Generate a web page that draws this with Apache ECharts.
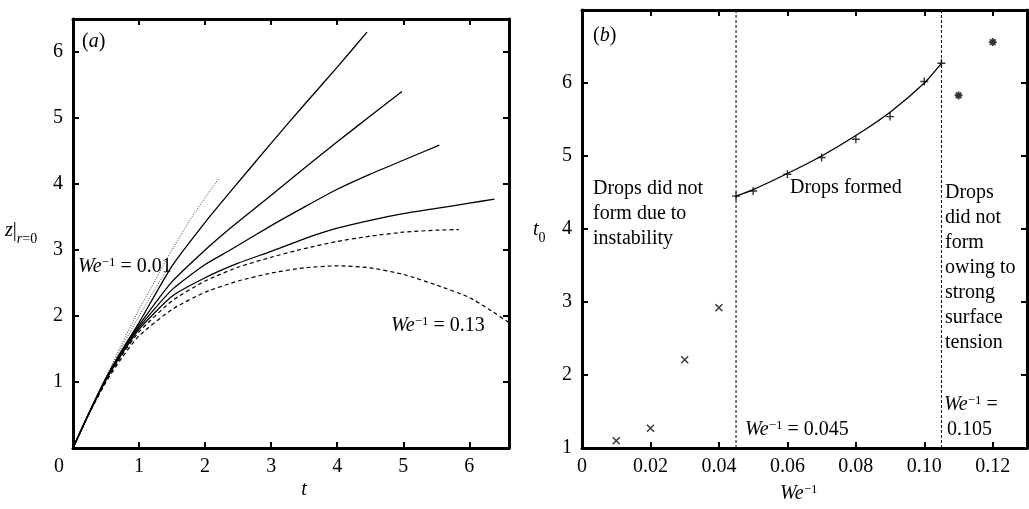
<!DOCTYPE html>
<html><head><meta charset="utf-8">
<script src="https://cdn.jsdelivr.net/npm/echarts/dist/echarts.min.js"></script>
<style>html,body{margin:0;padding:0;background:#fff}#c{width:1029px;height:509px}</style>
</head><body><div id="c"></div>
<script>
// ---------- Panel (a): z|r=0 versus t ----------
const tDot1 = [0, 0.25, 0.5, 0.75, 1.0, 1.25, 1.44, 1.8, 2.21];
const zDot1 = [0, 0.55, 1.08, 1.6, 2.1, 2.55, 2.9, 3.5, 4.09];
const tDot2 = [0, 0.25, 0.5, 0.75, 1.0, 1.25, 1.45];
const zDot2 = [0, 0.55, 1.07, 1.55, 2.0, 2.42, 2.75];
const tA = [0, 0.25, 0.5, 0.75, 1.0, 1.5, 2.0, 2.38, 3.0, 3.5, 4.0, 4.45];
const zA = [0, 0.55, 1.06, 1.5, 1.9, 2.76, 3.42, 3.88, 4.62, 5.2, 5.77, 6.3];
const tB = [0, 0.25, 0.5, 0.75, 1.0, 1.5, 2.0, 2.38, 3.0, 3.5, 4.0, 4.5, 4.98];
const zB = [0, 0.55, 1.05, 1.48, 1.86, 2.52, 3.0, 3.33, 3.83, 4.24, 4.64, 5.03, 5.4];
const tC = [0, 0.25, 0.5, 0.75, 1.0, 1.5, 2.0, 2.38, 3.0, 3.5, 4.0, 4.5, 5.0, 5.545];
const zC = [0, 0.54, 1.04, 1.46, 1.83, 2.4, 2.78, 3.0, 3.37, 3.65, 3.92, 4.15, 4.36, 4.59];
const tD = [0, 0.25, 0.5, 0.75, 1.0, 1.5, 2.0, 2.5, 3.0, 3.5, 4.0, 4.5, 5.0, 5.5, 6.0, 6.38];
const zD = [0, 0.54, 1.03, 1.44, 1.8, 2.3, 2.58, 2.8, 2.98, 3.17, 3.33, 3.45, 3.55, 3.63, 3.71, 3.77];
const tE = [0, 0.25, 0.5, 0.75, 1.0, 1.5, 2.0, 2.5, 3.0, 3.5, 4.0, 4.5, 5.0, 5.5, 5.84];
const zE = [0, 0.54, 1.02, 1.42, 1.76, 2.23, 2.53, 2.74, 2.89, 3.02, 3.13, 3.21, 3.27, 3.3, 3.31];
const tF = [0, 0.25, 0.5, 0.75, 1.0, 1.5, 2.0, 2.5, 3.0, 3.5, 4.0, 4.5, 5.0, 5.5, 6.0, 6.3, 6.6];
const zF = [0, 0.53, 1.0, 1.38, 1.7, 2.1, 2.36, 2.53, 2.65, 2.73, 2.76, 2.73, 2.63, 2.47, 2.28, 2.1, 1.9];

// ---------- Panel (b): t0 versus We^-1 ----------
const weUnstable = [0.01, 0.02, 0.03, 0.04];
const t0Unstable = [1.1, 1.27, 2.21, 2.92];
const weFormed = [0.045, 0.05, 0.06, 0.07, 0.08, 0.09, 0.10, 0.105];
const t0Formed = [4.45, 4.52, 4.75, 4.98, 5.23, 5.54, 6.02, 6.27];
const t0Fit = [4.45, 4.54, 4.76, 5.0, 5.28, 5.6, 6.0, 6.27];
const weTension = [0.11, 0.12];
const t0Tension = [5.83, 6.56];
const boundaries = [0.045, 0.105];

const zip = (a, b) => a.map((v, i) => [v, b[i]]);
const F = 'Liberation Serif, Times New Roman, serif';
const BLACK = '#000';
const T0_MIN = 1, T0_MAX = 7;

function frameAxes(grid, min, max, interval, isX, fmt) {
  const common = {
    gridIndex: grid, type: 'value', min: min, max: max, interval: interval,
    splitLine: { show: false },
    axisLine: { show: true, onZero: false, lineStyle: { color: BLACK, width: 3 } },
    axisTick: { show: true, inside: true, length: 6, lineStyle: { color: BLACK, width: 2 } }
  };
  const main = Object.assign({}, common, {
    position: isX ? 'bottom' : 'left',
    axisLabel: {
      show: true, fontFamily: F, fontSize: 20, color: BLACK, margin: isX ? 9 : 10,
      showMaxLabel: false, formatter: fmt,
      rich: { z: { fontFamily: F, fontSize: 20, color: BLACK, padding: [0, 28, 0, 0] } }
    }
  });
  const mirror = Object.assign({}, common, {
    position: isX ? 'top' : 'right',
    axisLabel: { show: false }
  });
  return [main, mirror];
}

const xAxes = [].concat(
  frameAxes(0, 0, 6.6, 1, true, v => v === 0 ? '{z|0}' : String(v)),
  frameAxes(1, 0, 0.13, 0.02, true, v => v === 0 ? '0' : v.toFixed(2))
);
const yAxes = [].concat(
  frameAxes(0, 0, 6.5, 1, false, v => v === 0 ? '' : String(v)),
  frameAxes(1, T0_MIN, T0_MAX, 1, false, v => String(v))
);

function curve(t, z, type, color, width) {
  return {
    type: 'line', xAxisIndex: 0, yAxisIndex: 0, data: zip(t, z),
    showSymbol: false, symbol: 'none', smooth: 0.2,
    lineStyle: { color: color, width: width, type: type }, silent: true, z: 3
  };
}

const symX = 'path://M0,0L10,10M10,0L0,10';
const symPlus = 'path://M5,0L5,10M0,5L10,5';
const symStar = 'path://M5,0L5,10M0,5L10,5M1.5,1.5L8.5,8.5M8.5,1.5L1.5,8.5';
const markStyle = { color: 'none', borderColor: BLACK, borderWidth: 1.4 };

const series = [
  curve(tDot1, zDot1, [1, 1.5], '#444', 1),
  curve(tDot2, zDot2, [1, 1.5], '#444', 1),
  curve(tA, zA, 'solid', BLACK, 1.3),
  curve(tB, zB, 'solid', BLACK, 1.3),
  curve(tC, zC, 'solid', BLACK, 1.3),
  curve(tD, zD, 'solid', BLACK, 1.3),
  curve(tE, zE, [4, 3], BLACK, 1.2),
  curve(tF, zF, [4, 3], BLACK, 1.2),
  {
    type: 'line', xAxisIndex: 2, yAxisIndex: 2, data: zip(weFormed, t0Fit),
    showSymbol: false, symbol: 'none', smooth: 0.2,
    lineStyle: { color: BLACK, width: 1.3 }, silent: true
  }
].concat(boundaries.map(b => ({
  type: 'line', xAxisIndex: 2, yAxisIndex: 2, data: [[b, T0_MIN], [b, T0_MAX]],
  showSymbol: false, symbol: 'none', silent: true,
  lineStyle: { color: BLACK, width: 1, type: [3, 2] }
}))).concat([
  { type: 'scatter', xAxisIndex: 2, yAxisIndex: 2, data: zip(weUnstable, t0Unstable), symbol: symX, symbolSize: 7, itemStyle: markStyle, silent: true },
  { type: 'scatter', xAxisIndex: 2, yAxisIndex: 2, data: zip(weFormed, t0Formed), symbol: symPlus, symbolSize: 8, itemStyle: markStyle, silent: true },
  { type: 'scatter', xAxisIndex: 2, yAxisIndex: 2, data: zip(weTension, t0Tension), symbol: symStar, symbolSize: 8, itemStyle: { color: 'none', borderColor: BLACK, borderWidth: 1.8 }, silent: true }
]);

const base = { fontFamily: F, fontSize: 20, fill: BLACK, color: BLACK };
const rich = {
  n: Object.assign({}, base),
  i: Object.assign({}, base, { fontStyle: 'italic' }),
  sup: { fontFamily: F, fontSize: 13, fill: BLACK, color: BLACK, verticalAlign: 'top', lineHeight: 22 },
  sub: { fontFamily: F, fontSize: 14, fill: BLACK, color: BLACK, verticalAlign: 'bottom', lineHeight: 30 },
  subi: { fontFamily: F, fontSize: 14, fontStyle: 'italic', fill: BLACK, color: BLACK, verticalAlign: 'bottom', lineHeight: 30 }
};
function txt(x, y, text, align, lh) {
  return {
    type: 'text', x: x, y: y, silent: true, z: 10,
    style: Object.assign({}, base, { text: text, rich: rich, align: align || 'left', verticalAlign: 'middle', lineHeight: lh || 22 })
  };
}
const WE = '{i|We}{sup|−1}';
const graphics = [
  txt(82, 42, '{n|(}{i|a}{n|)}'),
  txt(593, 36, '{n|(}{i|b}{n|)}'),
  txt(78, 267, WE + '{n| = 0.01}'),
  txt(391, 326, WE + '{n| = 0.13}'),
  txt(5, 231, '{i|z}{n||}{subi|r}{sub|=0}'),
  txt(304, 490, '{i|t}', 'center'),
  txt(533, 230, '{i|t}{sub|0}'),
  txt(780, 494, WE),
  txt(593, 214, 'Drops did not\nform due to\ninstability', 'left', 25),
  txt(790, 188, 'Drops formed'),
  txt(945, 268, 'Drops\ndid not\nform\nowing to\nstrong\nsurface\ntension', 'left', 25),
  txt(745, 430, WE + '{n| = 0.045}'),
  txt(944, 405, WE + '{n| =}'),
  txt(947, 430, '0.105')
];

const chart = echarts.init(document.getElementById('c'), null, { renderer: 'canvas' });
chart.setOption({
  animation: false,
  backgroundColor: '#fff',
  grid: [
    { left: 73, top: 19, width: 436, height: 429 },
    { left: 582, top: 10, width: 445, height: 438 }
  ],
  xAxis: xAxes,
  yAxis: yAxes,
  series: series,
  graphic: graphics
});
</script>
</body></html>
